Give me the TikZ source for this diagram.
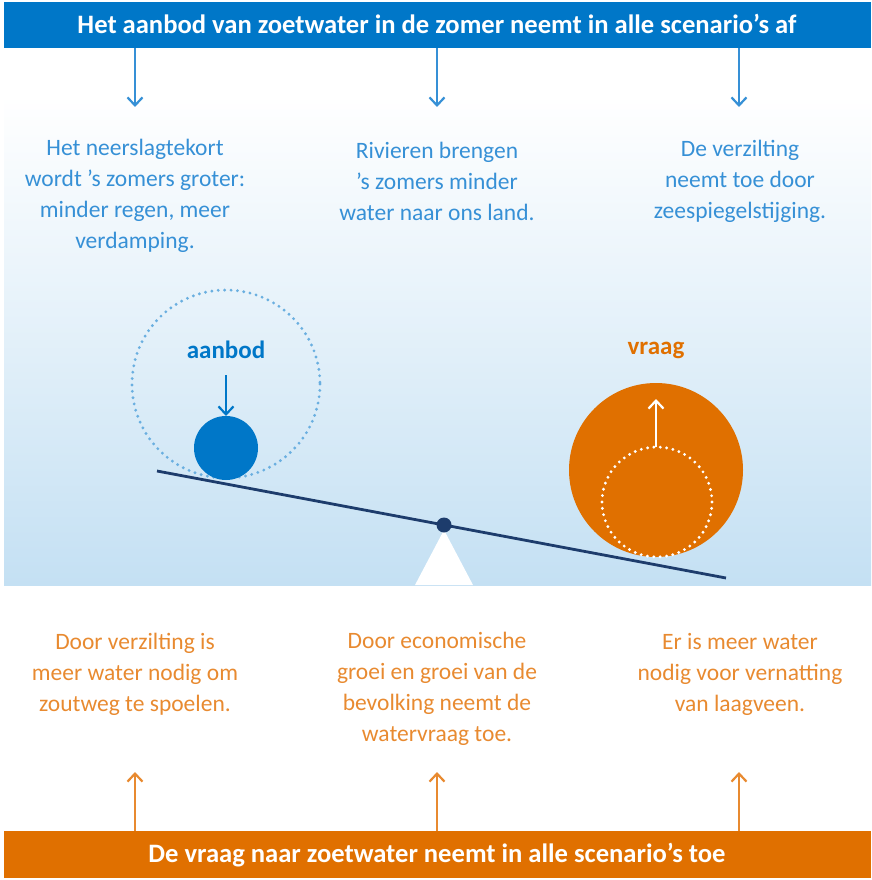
\documentclass[tikz,border=0pt]{standalone}
\usepackage{fontspec}
\setmainfont{Carlito}
\usetikzlibrary{arrows.meta}
\definecolor{balkblauw}{HTML}{0077C8}
\definecolor{tekstblauw}{HTML}{3690D6}
\definecolor{stipblauw}{HTML}{6AAFE0}
\definecolor{balkoranje}{HTML}{E07000}
\definecolor{tekstoranje}{HTML}{E88A30}
\definecolor{lucht}{HTML}{C4E0F3}
\definecolor{balk}{HTML}{1D3C6C}
\tikzset{
  kop/.style={text=white,font=\bfseries\fontsize{26.6}{30}\selectfont},
  uitleg/.style={align=center,font=\fontsize{23.5}{31}\selectfont},
  pijl/.style={line width=2.2pt,-{Straight Barb[length=8pt,width=15pt,line width=2.2pt]}},
  stippel/.style={line width=3.2pt,line cap=round,dash pattern=on 0pt off 6.4pt}
}
\begin{document}
\begin{tikzpicture}[x=1pt,y=-1pt]
\useasboundingbox (0,0) rectangle (871,880);
% achtergrond
\fill[white] (4,48) rectangle (871,95);
\shade[top color=white,bottom color=white!60!lucht] (4,95) rectangle (871,300);
\shade[top color=white!60!lucht,bottom color=lucht] (4,300) rectangle (871,585);
% balken
\fill[balkblauw] (4,2) rectangle (871,48);
\node[kop] (aanbodkop) at (437,24) {Het aanbod van zoetwater in de zomer neemt in alle scenario’s af};
\fill[balkoranje] (4,831) rectangle (871,878);
\node[kop] (vraagkop) at (437,855) {De vraag naar zoetwater neemt in alle scenario’s toe};
% teksten aanbod
\node[uitleg,text=tekstblauw] (regen) at (135,196) {Het neerslagtekort\\wordt ’s zomers groter:\\minder regen, meer\\verdamping.};
\node[uitleg,text=tekstblauw] (rivier) at (437,181) {Rivieren brengen\\’s zomers minder\\water naar ons land.};
\node[uitleg,text=tekstblauw] (zout) at (740,181) {De verzilting\\neemt toe door\\zeespiegelstijging.};
% teksten vraag
\node[uitleg,text=tekstoranje] (spoelen) at (135,674) {Door verzilting is\\meer water nodig om\\zoutweg te spoelen.};
\node[uitleg,text=tekstoranje] (groei) at (437,689) {Door economische\\groei en groei van de\\bevolking neemt de\\watervraag toe.};
\node[uitleg,text=tekstoranje] (veen) at (740,674) {Er is meer water\\nodig voor vernatting\\van laagveen.};
% pijlen
\foreach \x in {135,437,739}{
  \draw[pijl,tekstblauw] (\x,48) -- (\x,107);
  \draw[pijl,tekstoranje] (\x,831) -- (\x,772);
}
% wip
\coordinate (L) at (157,471);
\coordinate (R) at (726,578);
\coordinate (S) at (444,525);
\fill[white] (444,530) -- (473,585) -- (415,585) -- cycle;
\draw[balk,line width=2.8pt] (L) -- (R);
\fill[balk] (S) circle (7.5);
% aanbod
\draw[stippel,stipblauw] (226,384) circle (94);
\fill[balkblauw] (226,448) circle (32);
\node[font=\bfseries\fontsize{25}{28}\selectfont,text=balkblauw] (aanbod) at (226,350) {aanbod};
\draw[pijl,balkblauw] (226,375) -- (226,416);
% vraag
\fill[balkoranje] (656,470) circle (87);
\draw[stippel,white] (657,502) circle (55);
\node[font=\bfseries\fontsize{25}{28}\selectfont,text=balkoranje] (vraag) at (656,350) {vraag};
\draw[pijl,white] (656,447) -- (656,399);
\end{tikzpicture}
\end{document}
